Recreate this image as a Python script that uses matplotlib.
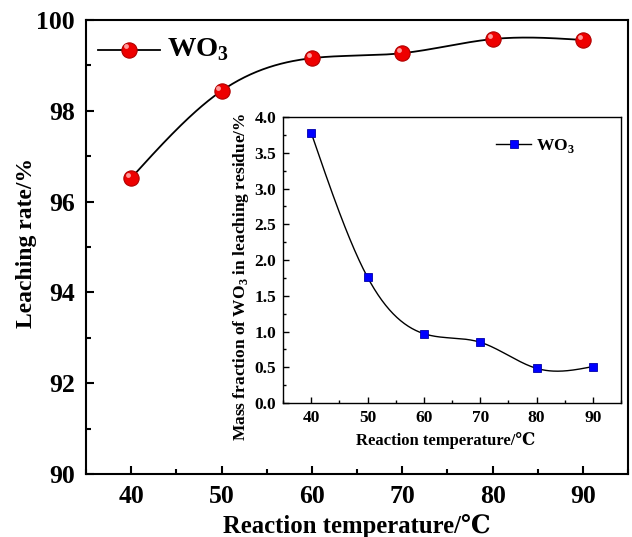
import numpy as np
import matplotlib.pyplot as plt
from matplotlib.lines import Line2D
from matplotlib.transforms import offset_copy
from matplotlib.ticker import MultipleLocator

plt.rcParams['font.family'] = ['Liberation Serif', 'DejaVu Serif']
plt.rcParams['font.weight'] = 'bold'
plt.rcParams['mathtext.fontset'] = 'custom'
plt.rcParams['mathtext.rm'] = 'Liberation Serif:bold'
plt.rcParams['mathtext.bf'] = 'Liberation Serif:bold'

# Leaching results vs. reaction temperature
temperature = [40, 50, 60, 70, 80, 90]
leaching_rate = [96.52, 98.44, 99.16, 99.27, 99.58, 99.56]
residue_wo3 = [3.78, 1.76, 0.97, 0.85, 0.485, 0.51]


def spline(x, y, n=300):
    # natural cubic spline through the measured points
    x = np.asarray(x, float)
    y = np.asarray(y, float)
    h = np.diff(x)
    m = len(x)
    A = np.zeros((m, m))
    b = np.zeros(m)
    A[0, 0] = A[-1, -1] = 1
    for i in range(1, m - 1):
        A[i, i - 1] = h[i - 1]
        A[i, i] = 2 * (h[i - 1] + h[i])
        A[i, i + 1] = h[i]
        b[i] = 6 * ((y[i + 1] - y[i]) / h[i] - (y[i] - y[i - 1]) / h[i - 1])
    M = np.linalg.solve(A, b)
    xs = np.linspace(x[0], x[-1], n)
    idx = np.clip(np.searchsorted(x, xs) - 1, 0, m - 2)
    x0, x1 = x[idx], x[idx + 1]
    hh = x1 - x0
    t0, t1 = x1 - xs, xs - x0
    ys = (M[idx] * t0**3 + M[idx + 1] * t1**3) / (6 * hh) \
        + (y[idx] / hh - M[idx] * hh / 6) * t0 \
        + (y[idx + 1] / hh - M[idx + 1] * hh / 6) * t1
    return xs, ys


def style_axes(ax, lw, major_len, minor_len):
    for s in ax.spines.values():
        s.set_linewidth(lw)
    ax.tick_params(which='both', direction='in', width=lw)
    ax.tick_params(which='major', length=major_len)
    ax.tick_params(which='minor', length=minor_len)


fig = plt.figure(figsize=(6.32, 5.37), dpi=100)
ax = fig.add_axes([0.136, 0.1173, 0.858, 0.8454])

xs, ys = spline(temperature, leaching_rate)
ax.plot(xs, ys, color='black', lw=1.3, zorder=2)
ax.plot(temperature, leaching_rate, 'o', ms=11, mfc='#ee0000', mec='#b00000',
        mew=0.8, zorder=3)
# small highlight on each sphere
shine = offset_copy(ax.transData, fig=fig, x=-2.2, y=2.2, units='points')
ax.plot(temperature, leaching_rate, 'o', ms=3.5, mfc='#ff9a9a', mec='none',
        transform=shine, zorder=4)

ax.set_xlim(35, 95)
ax.set_ylim(90, 100)
ax.xaxis.set_major_locator(MultipleLocator(10))
ax.xaxis.set_minor_locator(MultipleLocator(5))
ax.yaxis.set_major_locator(MultipleLocator(2))
ax.yaxis.set_minor_locator(MultipleLocator(1))
style_axes(ax, 1.5, 6, 3.5)
ax.tick_params(labelsize=18.5, pad=8)
ax.set_xlabel('Reaction temperature/\u2103', fontsize=17.8, fontweight='bold', labelpad=4)
ax.set_ylabel('Leaching rate/%', fontsize=17, fontweight='bold', labelpad=10)
ax.yaxis.set_label_coords(-0.09, 0.51)

# legend drawn by hand at the upper left
ax.plot([36.3, 43.2], [99.35, 99.35], color='black', lw=1.3)
ax.plot([39.8], [99.35], 'o', ms=11, mfc='#ee0000', mec='#b00000', mew=0.8)
ax.plot([39.8], [99.35], 'o', ms=3.5, mfc='#ff9a9a', mec='none', transform=shine)
ax.text(44.0, 99.35, r'WO$_\mathbf{3}$', fontsize=20.5, fontweight='bold', va='center')

# inset: WO3 left in the leaching residue
ins = fig.add_axes([0.4478, 0.2495, 0.5348, 0.5326])
xs2, ys2 = spline(temperature, residue_wo3)
ins.plot(xs2, ys2, color='black', lw=1.0)
ins.plot(temperature, residue_wo3, 's', ms=5.5, mfc='#0000ff', mec='#0000aa', mew=0.6)
ins.set_xlim(35, 95)
ins.set_ylim(0, 4)
ins.xaxis.set_major_locator(MultipleLocator(10))
ins.xaxis.set_minor_locator(MultipleLocator(5))
ins.yaxis.set_major_locator(MultipleLocator(0.5))
ins.yaxis.set_minor_locator(MultipleLocator(0.25))
ins.yaxis.set_major_formatter(plt.FormatStrFormatter('%.1f'))
style_axes(ins, 1.0, 4, 2.5)
ins.tick_params(labelsize=12.5, pad=5)
ins.set_xlabel('Reaction temperature/\u2103', fontsize=12, fontweight='bold', labelpad=3)
ins.xaxis.set_label_coords(0.48, -0.1)
ins.set_ylabel(r'Mass fraction of WO$_\mathbf{3}$ in leaching residue/%', fontsize=12.5,
               fontweight='bold', labelpad=2)
ins.yaxis.set_label_coords(-0.095, 0.44)

handle = Line2D([], [], color='black', lw=1.0, marker='s', ms=5.5, mfc='#0000ff',
                mec='#0000aa', mew=0.6)
ins.legend([handle], [r'WO$_\mathbf{3}$'], loc='center left',
           bbox_to_anchor=(0.585, 0.9), frameon=False, fontsize=12.5,
           handlelength=2.0, handletextpad=0.3)

fig.savefig('out.png', dpi=100)
